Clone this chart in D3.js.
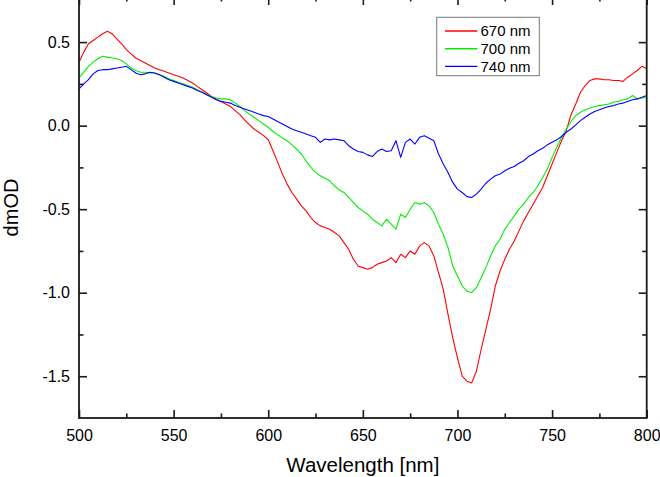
<!DOCTYPE html>
<html><head><meta charset="utf-8">
<script src="https://cdn.jsdelivr.net/npm/d3@7"></script>
<style>body{margin:0;background:#fff} svg{display:block}</style>
</head><body><svg id="c" width="660" height="477"></svg>
<script>
const wavelength = [500,502.5,505,507.5,510,512.5,515,517.5,520,522.5,525,527.5,530,532.5,535,537.5,540,542.5,545,547.5,550,552.5,555,557.5,560,562.5,565,567.5,570,572.5,575,577.5,580,582.5,585,587.5,590,592.5,595,597.5,600,602.5,605,607.5,610,612.5,615,617.5,620,622.5,625,627.5,630,632.5,635,637.5,640,642.5,645,647.5,650,652.5,655,657.5,660,662.5,665,667.5,670,672.5,675,677.5,680,682.5,685,687.5,690,692.5,695,697.5,700,702.5,705,707.5,710,712.5,715,717.5,720,722.5,725,727.5,730,732.5,735,737.5,740,742.5,745,747.5,750,752.5,755,757.5,760,762.5,765,767.5,770,772.5,775,777.5,780,782.5,785,787.5,790,792.5,795,797.5,800];
const od670 = [0.38,0.44,0.49,0.51,0.53,0.55,0.565,0.55,0.52,0.49,0.455,0.43,0.405,0.39,0.375,0.36,0.345,0.335,0.325,0.315,0.305,0.295,0.285,0.27,0.255,0.235,0.215,0.195,0.175,0.16,0.145,0.13,0.115,0.09,0.066,0.035,0.006,-0.02,-0.04,-0.06,-0.085,-0.15,-0.22,-0.29,-0.35,-0.40,-0.44,-0.48,-0.51,-0.55,-0.58,-0.60,-0.61,-0.62,-0.64,-0.66,-0.70,-0.74,-0.80,-0.84,-0.85,-0.86,-0.85,-0.83,-0.82,-0.81,-0.79,-0.82,-0.77,-0.79,-0.75,-0.77,-0.72,-0.70,-0.72,-0.78,-0.88,-0.98,-1.13,-1.27,-1.39,-1.50,-1.53,-1.54,-1.47,-1.34,-1.22,-1.10,-0.96,-0.87,-0.80,-0.74,-0.69,-0.63,-0.57,-0.52,-0.47,-0.42,-0.37,-0.30,-0.23,-0.16,-0.09,-0.03,0.065,0.13,0.20,0.24,0.27,0.28,0.28,0.275,0.275,0.27,0.27,0.265,0.29,0.31,0.33,0.355,0.34];
const od700 = [0.285,0.32,0.355,0.38,0.40,0.415,0.41,0.405,0.40,0.39,0.37,0.345,0.33,0.32,0.32,0.315,0.315,0.305,0.295,0.28,0.27,0.26,0.25,0.24,0.23,0.215,0.20,0.185,0.175,0.165,0.16,0.16,0.155,0.135,0.115,0.09,0.07,0.05,0.03,0.01,-0.01,-0.035,-0.055,-0.075,-0.09,-0.115,-0.14,-0.17,-0.21,-0.25,-0.28,-0.30,-0.315,-0.33,-0.36,-0.385,-0.40,-0.43,-0.46,-0.49,-0.51,-0.53,-0.56,-0.58,-0.60,-0.56,-0.59,-0.62,-0.53,-0.55,-0.50,-0.46,-0.47,-0.46,-0.48,-0.52,-0.59,-0.65,-0.73,-0.84,-0.90,-0.96,-0.99,-1.00,-0.97,-0.91,-0.85,-0.78,-0.72,-0.68,-0.62,-0.58,-0.54,-0.50,-0.47,-0.43,-0.40,-0.36,-0.31,-0.26,-0.19,-0.13,-0.07,-0.02,0.025,0.06,0.08,0.095,0.105,0.115,0.12,0.125,0.13,0.14,0.145,0.155,0.16,0.18,0.16,0.165,0.17];
const od740 = [0.22,0.25,0.275,0.31,0.33,0.335,0.335,0.34,0.345,0.35,0.355,0.335,0.315,0.305,0.31,0.32,0.315,0.305,0.29,0.275,0.265,0.255,0.245,0.235,0.225,0.21,0.20,0.185,0.17,0.155,0.145,0.14,0.135,0.12,0.11,0.10,0.09,0.08,0.07,0.06,0.055,0.04,0.025,0.01,-0.005,-0.02,-0.03,-0.04,-0.05,-0.06,-0.07,-0.10,-0.08,-0.085,-0.08,-0.085,-0.09,-0.12,-0.14,-0.155,-0.16,-0.175,-0.185,-0.155,-0.14,-0.155,-0.15,-0.09,-0.19,-0.10,-0.08,-0.11,-0.07,-0.06,-0.075,-0.09,-0.17,-0.23,-0.28,-0.34,-0.38,-0.40,-0.425,-0.43,-0.41,-0.38,-0.345,-0.32,-0.30,-0.29,-0.27,-0.255,-0.245,-0.225,-0.21,-0.185,-0.17,-0.15,-0.135,-0.115,-0.10,-0.085,-0.065,-0.04,-0.02,0.005,0.03,0.05,0.07,0.085,0.095,0.105,0.115,0.12,0.13,0.135,0.145,0.155,0.16,0.17,0.18];
const seriesNames = ["670 nm","700 nm","740 nm"];
const seriesColors = ["#ff0000","#00ee00","#0000ff"];
const xMajorTicks = [500,550,600,650,700,750,800];
const xMinorTicks = [525,575,625,675,725,775];
const yMajorTicks = [0.5,0.0,-0.5,-1.0,-1.5];
const yMinorTicks = [0.25,-0.25,-0.75,-1.25];
const xDomain = [500,800];
const yDomain = [-1.75,0.77];

const svg = d3.select("#c");
const L = 79, R = 646.7, T = -3, B = 418;
const x = d3.scaleLinear().domain(xDomain).range([L,R]);
const y = d3.scaleLinear().domain(yDomain).range([B,T]);
const font = "'Liberation Sans', Arial, Helvetica, sans-serif";
const axisColor = "#1a1a1a";

const series = [od670, od700, od740];
const line = d3.line().x((d,i)=>x(wavelength[i])).y(d=>y(d));
series.forEach((s,k)=>{
  svg.append("path").datum(s).attr("d", line)
    .attr("fill","none").attr("stroke",seriesColors[k]).attr("stroke-width",1.1)
    .attr("stroke-linejoin","round");
});

function styleAxis(g){
  g.select(".domain").remove();
  g.selectAll("line").attr("stroke",axisColor).attr("stroke-width",1.6);
  g.selectAll("text").attr("fill","#000").style("font-family",font).style("font-size","16px");
}
const fmt = d => d.toFixed(1);
// bottom
svg.append("g").attr("transform",`translate(0,${B})`)
  .call(d3.axisBottom(x).tickValues(xMajorTicks).tickSize(-8).tickPadding(12).tickFormat(d=>d))
  .call(styleAxis);
svg.append("g").attr("transform",`translate(0,${B})`)
  .call(d3.axisBottom(x).tickValues(xMinorTicks).tickSize(-4.5).tickFormat(""))
  .call(styleAxis);
// top
svg.append("g").attr("transform",`translate(0,${T})`)
  .call(d3.axisTop(x).tickValues(xMajorTicks).tickSize(-8).tickFormat(""))
  .call(styleAxis);
svg.append("g").attr("transform",`translate(0,${T})`)
  .call(d3.axisTop(x).tickValues(xMinorTicks).tickSize(-4.5).tickFormat(""))
  .call(styleAxis);
// left
svg.append("g").attr("transform",`translate(${L},0)`)
  .call(d3.axisLeft(y).tickValues(yMajorTicks).tickSize(-8).tickPadding(9).tickFormat(fmt))
  .call(styleAxis);
svg.append("g").attr("transform",`translate(${L},0)`)
  .call(d3.axisLeft(y).tickValues(yMinorTicks).tickSize(-4.5).tickFormat(""))
  .call(styleAxis);
// right
svg.append("g").attr("transform",`translate(${R},0)`)
  .call(d3.axisRight(y).tickValues(yMajorTicks).tickSize(-8).tickFormat(""))
  .call(styleAxis);
svg.append("g").attr("transform",`translate(${R},0)`)
  .call(d3.axisRight(y).tickValues(yMinorTicks).tickSize(-4.5).tickFormat(""))
  .call(styleAxis);

// frame
svg.append("rect").attr("x",L).attr("y",T).attr("width",R-L).attr("height",B-T)
  .attr("fill","none").attr("stroke",axisColor).attr("stroke-width",1.8);

// axis titles
svg.append("text").attr("x",(L+R)/2).attr("y",472).attr("text-anchor","middle")
  .style("font-family",font).style("font-size","20.5px").text("Wavelength [nm]");
svg.append("text").attr("transform",`translate(17.5,${(T+B)/2}) rotate(-90)`).attr("text-anchor","middle")
  .style("font-family",font).style("font-size","20px").text("dmOD");

// legend
const lg = svg.append("g");
lg.append("rect").attr("x",436.7).attr("y",17.3).attr("width",102.6).attr("height",58.4)
  .attr("fill","#fff").attr("stroke","#777").attr("stroke-width",1);
seriesNames.forEach((n,k)=>{
  const yy = 31 + k*17.7;
  lg.append("path").attr("d",`M445,${yy}L477.3,${yy}`)
    .attr("fill","none").attr("stroke",seriesColors[k]).attr("stroke-width",1.4);
  lg.append("text").attr("x",480.5).attr("y",yy).attr("dy","0.36em")
    .style("font-family",font).style("font-size","15px").text(n);
});
</script></body></html>
